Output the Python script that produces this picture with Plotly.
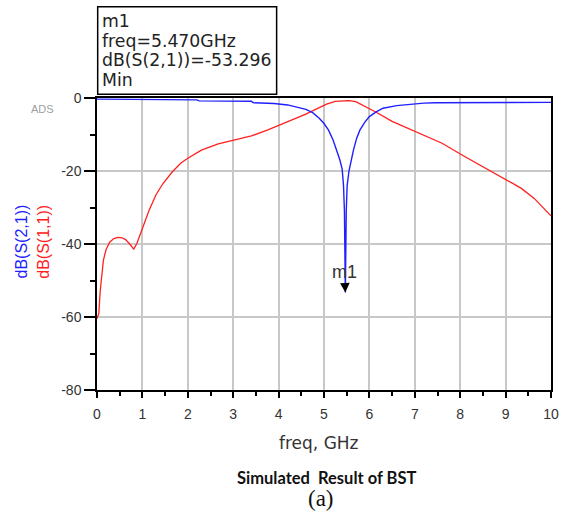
import plotly.graph_objects as go

# S(1,1) data (red)
freq_s11 = [0.0, 0.04, 0.07, 0.10, 0.14, 0.20, 0.28, 0.37, 0.46, 0.55, 0.63, 0.72, 0.81,
            0.88, 0.95, 1.03, 1.15, 1.30, 1.45, 1.66, 1.85, 2.00, 2.30, 2.67, 3.00, 3.40,
            3.75, 4.05, 4.35, 4.60, 4.85, 5.07, 5.25, 5.43, 5.55, 5.70, 5.93, 6.15, 6.50,
            7.00, 7.60, 8.04, 8.47, 9.00, 9.34, 9.63, 9.85, 10.0]
db_s11 = [-60.5, -59.0, -53.0, -48.5, -44.5, -41.5, -39.5, -38.5, -38.2, -38.3, -38.8, -40.0, -41.4,
          -39.8, -37.5, -35.0, -30.7, -26.5, -23.5, -20.2, -17.8, -16.5, -14.3, -12.6, -11.6, -10.4,
          -8.8, -7.2, -5.8, -4.4, -2.9, -1.6, -0.9, -0.7, -0.7, -1.0, -2.4, -3.9, -6.4,
          -9.1, -12.4, -15.6, -18.6, -22.4, -24.7, -27.5, -30.2, -32.3]

# S(2,1) data (blue)
freq_s21 = [0.0, 1.0, 2.2, 2.25, 3.4, 3.45, 3.9, 4.2, 4.4, 4.6, 4.75, 4.9, 5.0, 5.1, 5.2, 5.28,
            5.35, 5.40, 5.43, 5.45, 5.47, 5.49, 5.51, 5.55, 5.60, 5.65, 5.72, 5.79, 5.90,
            6.00, 6.15, 6.30, 6.60, 6.88, 7.20, 7.46, 8.50, 10.0]
db_s21 = [-0.3, -0.4, -0.5, -0.8, -0.9, -1.3, -1.5, -1.9, -2.4, -3.1, -4.0, -5.6, -7.0, -8.8, -11.5, -14.2,
          -17.0, -19.5, -24.0, -31.0, -53.296, -31.0, -24.0, -20.0, -17.0, -14.2, -11.0, -8.8, -6.6,
          -5.1, -3.8, -2.8, -2.1, -1.7, -1.4, -1.3, -1.2, -1.2]

marker_freq = 5.47
marker_db = -53.296
marker_lines = ["m1", "freq=5.470GHz", "dB(S(2,1))=-53.296", "Min"]

x_ticks = [0, 1, 2, 3, 4, 5, 6, 7, 8, 9, 10]
x_ticktext = ["0", "1", "2", "3", "4", "5", "6", "7", "8", "9", "10"]
y_ticks = [0, -20, -40, -60, -80]
y_ticktext = ["0", "-20", "-40", "-60", "-80"]

# plot-area geometry in page pixels
PL, PR, PT, PB = 97, 557, 98, 390


def px_x(px):
    return (px - PL) / (PR - PL)


def px_y(py):
    return (PB - py) / (PB - PT)


fig = go.Figure()
fig.add_trace(go.Scatter(x=freq_s11, y=db_s11, mode="lines",
                         line=dict(color="#ff2020", width=1.3), showlegend=False))
fig.add_trace(go.Scatter(x=freq_s21, y=db_s21, mode="lines",
                         line=dict(color="#2020ff", width=1.4), showlegend=False))

axis_common = dict(showline=True, linecolor="black", linewidth=1.5, mirror=True,
                   ticks="outside", tickcolor="black", tickwidth=1.5,
                   showgrid=True, gridcolor="#c8c8c8", gridwidth=1.5, zeroline=False,
                   tickfont=dict(family="Liberation Sans", size=14, color="#333333"))

fig.update_xaxes(range=[0, 10], tickvals=x_ticks, ticktext=x_ticktext, ticklen=6,
                 ticklabelstandoff=4,
                 minor=dict(dtick=0.5, ticks="outside", ticklen=4, tickcolor="black", showgrid=False),
                 **axis_common)
fig.update_yaxes(range=[-80, 0], tickvals=y_ticks, ticktext=y_ticktext, ticklen=11,
                 minor=dict(dtick=10, ticks="outside", ticklen=5, tickcolor="black", showgrid=False),
                 **axis_common)

# marker arrow and label
fig.add_annotation(x=marker_freq, y=marker_db, text="m1", showarrow=True,
                   arrowhead=2, arrowsize=1.6, arrowwidth=1.2, arrowcolor="black",
                   ax=-1, ay=-21, standoff=0,
                   font=dict(family="Liberation Sans", size=18, color="#333333"))

# marker readout box
fig.add_shape(type="rect", xref="paper", yref="paper",
              x0=px_x(97.7), x1=px_x(279), y0=px_y(94.3), y1=px_y(6.7),
              line=dict(color="black", width=1.5), fillcolor="white")
for i, line_text in enumerate(marker_lines):
    fig.add_annotation(xref="paper", yref="paper", x=px_x(100), y=px_y(21 + 19.7 * i),
                       xanchor="left", yanchor="middle", showarrow=False, text=line_text,
                       font=dict(family="DejaVu Sans", size=17.3, color="#222222"))

# ADS watermark
fig.add_annotation(xref="paper", yref="paper", x=px_x(41.5), y=px_y(109),
                   xanchor="center", yanchor="middle", showarrow=False,
                   text="ADS", font=dict(family="Liberation Sans", size=11, color="#a0a0a0"))

# y-axis titles
fig.add_annotation(xref="paper", yref="paper", x=px_x(19.5), y=px_y(242),
                   xanchor="center", yanchor="middle", showarrow=False,
                   text="dB(S(2,1))", textangle=-90,
                   font=dict(family="Liberation Sans", size=16, color="#2020ff"))
fig.add_annotation(xref="paper", yref="paper", x=px_x(42), y=px_y(242),
                   xanchor="center", yanchor="middle", showarrow=False,
                   text="dB(S(1,1))", textangle=-90,
                   font=dict(family="Liberation Sans", size=16, color="#ff2020"))

# x-axis title and captions
fig.add_annotation(xref="paper", yref="paper", x=px_x(322), y=px_y(443),
                   xanchor="center", yanchor="middle", showarrow=False,
                   text="freq, GHz", font=dict(family="DejaVu Sans", size=17, color="#333333"))
fig.add_annotation(xref="paper", yref="paper", x=px_x(329.5), y=px_y(477.5),
                   xanchor="center", yanchor="middle", showarrow=False,
                   text="<b>Simulated  Result of BST</b>",
                   font=dict(family="Lato", size=16.5, color="#111111"))
fig.add_annotation(xref="paper", yref="paper", x=px_x(323.5), y=px_y(498.5),
                   xanchor="center", yanchor="middle", showarrow=False,
                   text="(a)", font=dict(family="Liberation Serif", size=23, color="#111111"))

fig.update_layout(width=571, height=514, margin=dict(l=97, r=14, t=98, b=124),
                  plot_bgcolor="white", paper_bgcolor="white")

fig.write_html("out.html", config={"displayModeBar": False},
               post_script="document.body.style.margin='0';")
